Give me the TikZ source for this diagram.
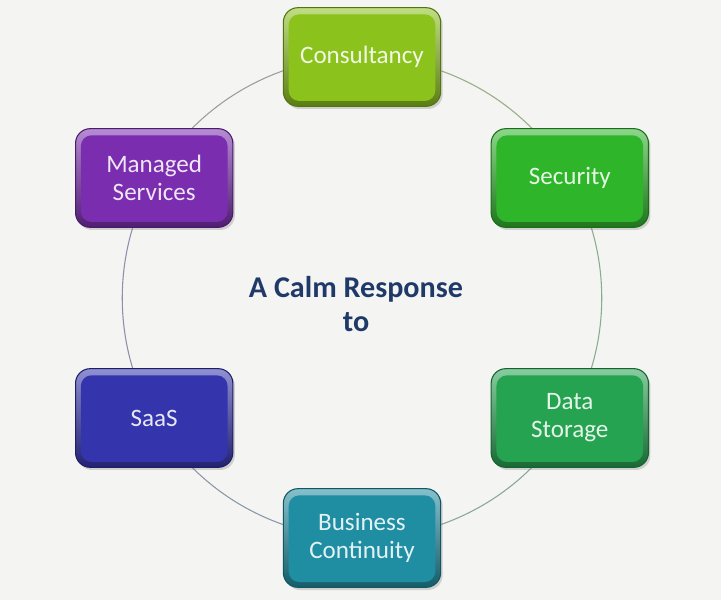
\documentclass[tikz,border=0pt]{standalone}
\usepackage{fontspec}
\setmainfont{Carlito}
\usetikzlibrary{shadows,backgrounds}
\definecolor{bg}{HTML}{F4F4F2}
\definecolor{cCons}{HTML}{8CC21C}
\definecolor{cSec}{HTML}{2EB52A}
\definecolor{cData}{HTML}{25A350}
\definecolor{cBus}{HTML}{1F8EA3}
\definecolor{cSaas}{HTML}{3434AD}
\definecolor{cMan}{HTML}{7A2DAF}
\definecolor{titleblue}{HTML}{1F3A68}
\tikzset{
  tile/.style={rounded corners=11pt, minimum width=118pt, minimum height=74pt,
    align=center, font=\fontsize{18.8}{21}\selectfont, text=#1!12!white,
    top color=#1!55!white, bottom color=#1!65!black, draw=#1!60!black, line width=0.8pt,
    drop shadow={opacity=0.3, shadow xshift=1.5pt, shadow yshift=-2pt},
    path picture={\fill[#1, rounded corners=8pt]
      ([shift={(4pt,4pt)}]path picture bounding box.south west) rectangle
      ([shift={(-4pt,-5pt)}]path picture bounding box.north east);}},
  ring/.style={line width=0.8pt, looseness=0.91},
  headline/.style={font=\bfseries\fontsize{22.6}{25}\selectfont, text=titleblue, align=center}
}
\begin{document}
\begin{tikzpicture}[x=0.75pt,y=0.75pt]
\useasboundingbox (0,0) rectangle (721,600);
\coordinate (ctr) at (362,302);
\node[tile=cCons] (cons) at (362,543) {Consultancy};
\node[tile=cSec]  (sec)  at (569.8,422) {Security};
\node[tile=cData] (data) at (569.8,182) {Data\\Storage};
\node[tile=cBus]  (bus)  at (362,62) {Business\\Continuity};
\node[tile=cSaas] (saas) at (154.2,182) {SaaS};
\node[tile=cMan]  (man)  at (154.2,422) {Managed\\Services};
\node[headline] (head) at (356,296) {A Calm Response\\to};
\begin{scope}[on background layer]
  \fill[bg] (0,0) rectangle (721,600);
  \draw[ring, draw=cCons!50!cSec!35!gray!75!white] (cons.center) to[bend left=30] (sec.center);
  \draw[ring, draw=cSec!50!cData!35!gray!75!white] (sec.center) to[bend left=30] (data.center);
  \draw[ring, draw=cData!50!cBus!35!gray!75!white] (data.center) to[bend left=30] (bus.center);
  \draw[ring, draw=cBus!50!cSaas!35!gray!75!white] (bus.center) to[bend left=30] (saas.center);
  \draw[ring, draw=cSaas!50!cMan!35!gray!75!white] (saas.center) to[bend left=30] (man.center);
  \draw[ring, draw=cMan!50!cCons!35!gray!75!white] (man.center) to[bend left=30] (cons.center);
\end{scope}
\end{tikzpicture}
\end{document}
